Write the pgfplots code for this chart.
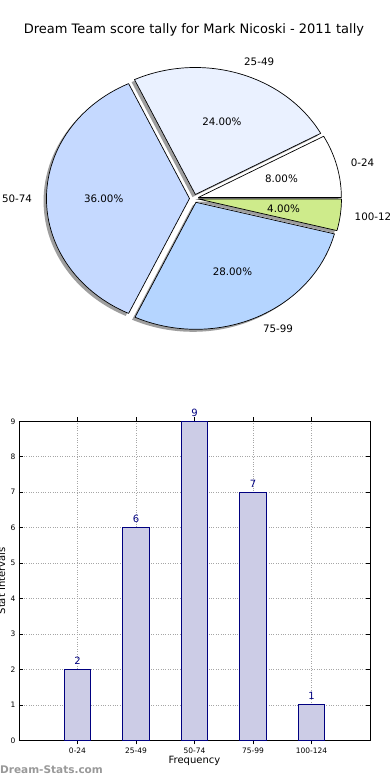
\documentclass[border=0pt]{standalone}
\usepackage{pgfplots}
\pgfplotsset{compat=1.18}
\usepackage{pgfplotstable}
\usepackage{fontspec}
\setmainfont{DejaVu Sans}
\definecolor{c0}{HTML}{FFFFFF}
\definecolor{c1}{HTML}{EAF1FF}
\definecolor{c2}{HTML}{C5D9FF}
\definecolor{c3}{HTML}{B5D5FF}
\definecolor{c4}{HTML}{CEEB8B}
\definecolor{barfill}{HTML}{CCCCE6}
\definecolor{navy}{HTML}{000080}
\definecolor{wm}{HTML}{999999}

\pgfplotstableread{
idx label value
1 0-24 2
2 25-49 6
3 50-74 9
4 75-99 7
5 100-124 1
}\bardata

% #1 cumulative value before slice, #2 value (total 25 -> 14.4 deg per unit)
\newcommand{\pieshadow}[2]{%
 \fill[black!38] (axis cs:{191.1+4.5*cos(14.4*(#1+#2/2))},{-201+4.2*sin(14.4*(#1+#2/2))})
   -- ++({14.4*(#1)}:143pt and 127pt)
   arc[start angle={14.4*(#1)}, end angle={14.4*(#1+#2)}, x radius=143pt, y radius=127pt] -- cycle;}
\newcommand{\pieslice}[5]{%
 \filldraw[fill=#3, draw=black, line width=0.7pt, line join=round]
   (axis cs:{194+4.5*cos(14.4*(#1+#2/2))},{-198.5+4.2*sin(14.4*(#1+#2/2))})
   -- ++({14.4*(#1)}:143pt and 127pt)
   arc[start angle={14.4*(#1)}, end angle={14.4*(#1+#2)}, x radius=143pt, y radius=127pt] -- cycle;
 \node[anchor=#5, inner sep=0pt, font=\fontsize{10.3}{12}\selectfont]
   at (axis cs:{194+(4.5+157.3)*cos(14.4*(#1+#2/2))},{-198.5+(4.2+139.7)*sin(14.4*(#1+#2/2))}) {#4};
 \node[inner sep=0pt, font=\fontsize{10.3}{12}\selectfont]
   at (axis cs:{194+(4.5+85.8)*cos(14.4*(#1+#2/2))},{-198.5+(4.2+76.2)*sin(14.4*(#1+#2/2))})
   {\pgfmathparse{4*#2}\pgfmathprintnumber[fixed,fixed zerofill,precision=2,assume math mode=true]{\pgfmathresult}\%};}

\begin{document}
\begin{tikzpicture}
\useasboundingbox (0,0) rectangle (390pt,-780pt);
\clip (0,0) rectangle (390pt,-780pt);
\fill[white] (0,0) rectangle (390pt,-780pt);

\node[font=\fontsize{13}{15}\selectfont] at (194pt,-30pt) {Dream Team score tally for Mark Nicoski - 2011 tally};

\begin{axis}[at={(0pt,0pt)}, anchor=north west, scale only axis, width=390pt, height=400pt,
  xmin=0, xmax=390, ymin=-400, ymax=0, hide axis, clip=false]
\pieshadow{0}{2}
\pieshadow{2}{6}
\pieshadow{8}{9}
\pieshadow{17}{7}
\pieshadow{24}{1}
\pieslice{0}{2}{c0}{0-24}{west}
\pieslice{2}{6}{c1}{25-49}{west}
\pieslice{8}{9}{c2}{50-74}{east}
\pieslice{17}{7}{c3}{75-99}{west}
\pieslice{24}{1}{c4}{100-124}{west}
\end{axis}

\begin{axis}[at={(19pt,-740.3pt)}, anchor=south west, scale only axis, width=351pt, height=319pt,
  xmin=0, xmax=6, ymin=0, ymax=9, ytick={0,1,...,9}, xtick=data,
  xticklabels from table={\bardata}{label},
  ybar, bar width=0.45,
  grid=major, grid style={dotted, gray!70, line width=0.6pt},
  axis line style={line width=0.8pt},
  tick style={black, line width=0.6pt}, major tick length=4pt,
  ticklabel style={font=\fontsize{7.5}{9}\selectfont},
  /pgf/number format/assume math mode=true,
  xlabel={Frequency}, ylabel={Stat Intervals},
  every axis x label/.style={at={(axis description cs:0.5,-0.064)}, anchor=center, font=\fontsize{10}{12}\selectfont},
  every axis y label/.style={at={(axis description cs:-0.05,0.5)}, anchor=center, rotate=90, font=\fontsize{10}{12}\selectfont},
  nodes near coords, nodes near coords style={navy, font=\fontsize{10}{12}\selectfont, inner sep=0pt, yshift=4.5pt},
  clip=false]
\addplot[fill=barfill, draw=navy, line width=0.8pt] table[x=idx, y=value]{\bardata};
\end{axis}

\node[anchor=west, inner sep=0pt, text=wm, font=\bfseries\fontsize{10.5}{12}\selectfont] at (0pt,-770pt) {Dream-Stats.com};
\end{tikzpicture}
\end{document}
